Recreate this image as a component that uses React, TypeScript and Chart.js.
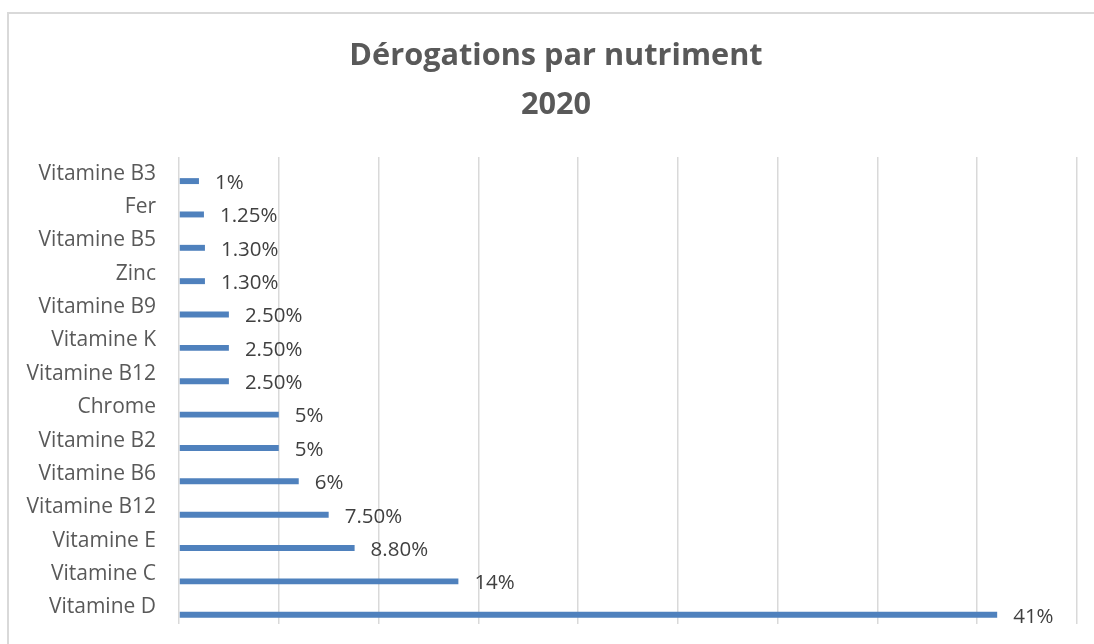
import React, { useEffect, useRef } from "react";
import { Chart, registerables } from "chart.js";

Chart.register(...registerables);

const categories = [
  "Vitamine B3",
  "Fer",
  "Vitamine B5",
  "Zinc",
  "Vitamine B9",
  "Vitamine K",
  "Vitamine B12",
  "Chrome",
  "Vitamine B2",
  "Vitamine B6",
  "Vitamine B12",
  "Vitamine E",
  "Vitamine C",
  "Vitamine D",
];

const values = [1, 1.25, 1.3, 1.3, 2.5, 2.5, 2.5, 5, 5, 6, 7.5, 8.8, 14, 41];

const valueLabels = [
  "1%",
  "1.25%",
  "1.30%",
  "1.30%",
  "2.50%",
  "2.50%",
  "2.50%",
  "5%",
  "5%",
  "6%",
  "7.50%",
  "8.80%",
  "14%",
  "41%",
];

const titleLines = ["Dérogations par nutriment", "2020"];

const FONT = "'Open Sans', 'Noto Sans', sans-serif";

const dataLabelPlugin = {
  id: "dataLabelPlugin",
  afterDatasetsDraw(chart: any) {
    const meta = chart.getDatasetMeta(1);
    const ctx = chart.ctx;
    ctx.save();
    ctx.font = `20.5px ${FONT}`;
    ctx.fillStyle = "#404040";
    ctx.textAlign = "left";
    ctx.textBaseline = "middle";
    meta.data.forEach((bar: any, i: number) => {
      ctx.fillText(valueLabels[i], bar.x + 16, bar.y + 2);
    });
    ctx.restore();
  },
};

const titlePlugin = {
  id: "offsetTitle",
  afterDraw(chart: any) {
    const ctx = chart.ctx;
    ctx.save();
    ctx.font = `bold 30.7px ${FONT}`;
    ctx.fillStyle = "#595959";
    ctx.textAlign = "center";
    ctx.textBaseline = "alphabetic";
    const cx = 556;
    titleLines.forEach((line, i) => {
      ctx.fillText(line, cx, 64.5 + i * 49);
    });
    ctx.restore();
  },
};

export default function App() {
  const canvasRef = useRef<HTMLCanvasElement | null>(null);

  useEffect(() => {
    document.body.style.margin = "0";
    const canvas = canvasRef.current;
    if (!canvas) return;
    const chart = new Chart(canvas, {
      type: "bar",
      data: {
        labels: categories,
        datasets: [
          {
            label: "",
            data: categories.map(() => null),
            backgroundColor: "rgba(0,0,0,0)",
          },
          {
            label: "Dérogations",
            data: values,
            backgroundColor: "#4F81BD",
            borderWidth: 0,
          },
        ],
      },
      options: {
        indexAxis: "y",
        animation: false,
        responsive: false,
        maintainAspectRatio: false,
        categoryPercentage: 0.89,
        barPercentage: 0.4,
        layout: { padding: { top: 157, right: 17, bottom: 20, left: 0 } },
        plugins: {
          legend: { display: false },
          tooltip: { enabled: false },
          title: { display: false },
        },
        scales: {
          x: {
            min: 0,
            max: 45,
            ticks: { display: false, stepSize: 5 },
            grid: { color: "#d9d9d9", lineWidth: 1.5, drawTicks: false },
            border: { display: false },
            afterFit: (scale: any) => {
              scale.height = 0;
            },
          },
          y: {
            ticks: {
              color: "#595959",
              font: { family: FONT, size: 21 },
              padding: 0,
            },
            grid: { display: false, drawTicks: true, tickLength: 23 },
            border: { display: false },
            afterFit: (scale: any) => {
              scale.width = 179;
            },
          },
        },
      },
      plugins: [dataLabelPlugin, titlePlugin],
    } as any);
    return () => chart.destroy();
  }, []);

  return (
    <div style={{ position: "relative", width: 1094, height: 644, overflow: "hidden", background: "#fff" }}>
      <div
        style={{
          position: "absolute",
          left: 7,
          top: 12,
          width: 1100,
          height: 700,
          border: "2px solid #d9d9d9",
          boxSizing: "border-box",
        }}
      />
      <canvas
        ref={canvasRef}
        width={1094}
        height={644}
        style={{ position: "absolute", left: 0, top: 0, width: 1094, height: 644 }}
      />
    </div>
  );
}
